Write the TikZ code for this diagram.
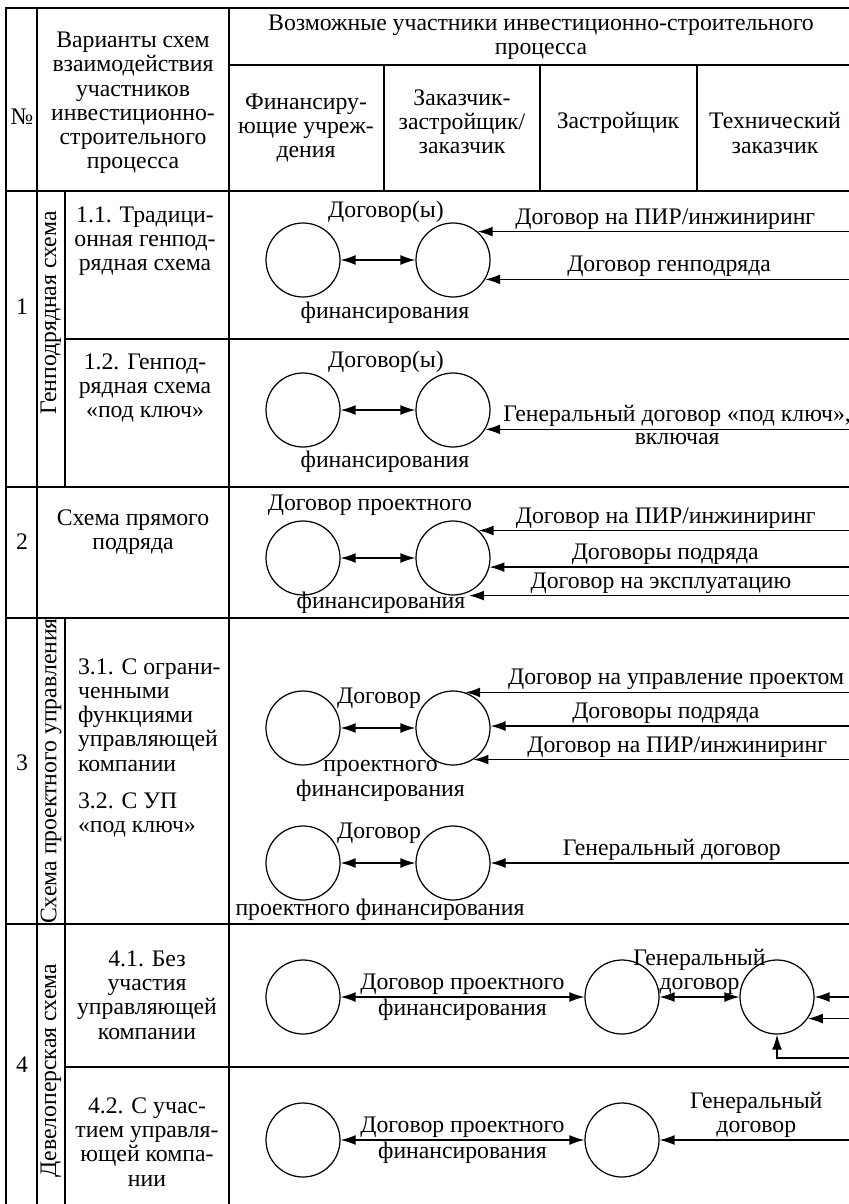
\documentclass[tikz,border=0pt]{standalone}
\usepackage{fontspec}
\setmainfont{Liberation Serif}
\usetikzlibrary{
    arrows.meta,
    positioning,
    calc
}

\begin{document}
\begin{tikzpicture}[
    txt/.style={font=\fontsize{13.5}{13.8}\selectfont, inner sep=1pt, align=center},
    party/.style={circle, draw, line width=0.7pt, minimum size=1.48cm, inner sep=0pt},
    arr/.style={-{Latex[length=8.5pt, width=5.6pt]}, line width=0.7pt},
    dblarr/.style={{Latex[length=8.5pt, width=5.6pt]}-{Latex[length=8.5pt, width=5.6pt]}, line width=0.7pt},
    grid/.style={line width=0.7pt}
]
    \useasboundingbox (0,0) rectangle (16.98,-24.08);
    \clip (0,0) rectangle (16.98,-24.08);
    \coordinate (edge) at (17.06,0);

    % Table rules
    \draw[grid] (0.12,-24.3) -- (0.12,-0.16) -- (17.1,-0.16);
    \draw[grid] (0.74,-0.16) -- (0.74,-24.3);
    \draw[grid] (4.58,-0.16) -- (4.58,-24.3);
    \draw[grid] (4.58,-1.30) -- (17.1,-1.30);
    \draw[grid] (7.68,-1.30) -- (7.68,-3.82);
    \draw[grid] (10.80,-1.30) -- (10.80,-3.82);
    \draw[grid] (13.94,-1.30) -- (13.94,-3.82);
    \draw[grid] (0.12,-3.82) -- (17.1,-3.82);
    \draw[grid] (0.12,-9.74) -- (17.1,-9.74);
    \draw[grid] (0.12,-12.36) -- (17.1,-12.36);
    \draw[grid] (0.12,-18.48) -- (17.1,-18.48);
    \draw[grid] (1.30,-6.78) -- (17.1,-6.78);
    \draw[grid] (1.30,-21.34) -- (17.1,-21.34);
    \draw[grid] (1.30,-3.82) -- (1.30,-9.74);
    \draw[grid] (1.30,-12.36) -- (1.30,-24.3);

    % Header
    \node[txt] (num) at (0.44,-2.34) {№};
    \node[txt] (variants) at (2.66,-2.06) {Варианты схем\\взаимодействия\\участников\\инвестиционно-\\строительного\\процесса};
    \node[txt] (parts) at (10.82,-0.75) {Возможные участники инвестиционно-строительного\\процесса};
    \node[txt] (hfin) at (6.12,-2.56) {Финансиру-\\ющие учреж-\\дения};
    \node[txt] (hzak) at (9.24,-2.44) {Заказчик-\\застройщик/\\заказчик};
    \node[txt] (hzas) at (12.36,-2.46) {Застройщик};
    \node[txt] (hteh) at (15.50,-2.66) {Технический\\заказчик};

    % Row 1
    \node[txt] (n1) at (0.44,-6.14) {1};
    \node[txt, rotate=90] (gen) at (1.02,-6.26) {Генподрядная схема};

    % 1.1
    \node[txt] (v11) at (2.90,-4.82) {1.1. Традици-\\онная генпод-\\рядная схема};
    \node[party] (fin11) at (6.06,-5.20) {};
    \node[party] (zak11) at (9.06,-5.20) {};
    \draw[dblarr] (fin11) -- (zak11);
    \node[txt] (d11) at (7.72,-4.24) {Договор(ы)};
    \node[txt] (f11) at (7.70,-6.26) {финансирования};
    \draw[arr] (zak11.49 -| edge) -- (zak11.49) node[txt, midway, above] {Договор на ПИР/инжиниринг};
    \draw[arr] (zak11.-31 -| edge) -- (zak11.-31) node[txt, midway, above] {Договор генподряда};

    % 1.2
    \node[txt] (v12) at (2.90,-7.76) {1.2. Генпод-\\рядная схема\\«под ключ»};
    \node[party] (fin12) at (6.06,-8.20) {};
    \node[party] (zak12) at (9.06,-8.20) {};
    \draw[dblarr] (fin12) -- (zak12);
    \node[txt] (d12) at (7.72,-7.24) {Договор(ы)};
    \node[txt] (f12) at (7.70,-9.24) {финансирования};
    \draw[arr] (zak12.-31 -| edge) -- (zak12.-31)
        node[txt, midway, above, xshift=0.16cm] {Генеральный договор «под ключ»,}
        node[txt, midway, below, xshift=0.16cm, yshift=-1pt] {включая};

    % Row 2
    \node[txt] (n2) at (0.44,-10.84) {2};
    \node[txt] (v2) at (2.66,-10.64) {Схема прямого\\подряда};
    \node[party] (fin2) at (6.06,-11.16) {};
    \node[party] (zak2) at (9.06,-11.16) {};
    \draw[dblarr] (fin2) -- (zak2);
    \node[txt] (d2) at (7.40,-10.10) {Договор проектного};
    \node[txt] (f2) at (7.62,-12.06) {финансирования};
    \draw[arr] (zak2.47 -| edge) -- (zak2.47) node[txt, midway, above] {Договор на ПИР/инжиниринг};
    \draw[arr] (zak2.-14 -| edge) -- (zak2.-14) node[txt, midway, above, xshift=-0.12cm] {Договоры подряда};
    \coordinate (zak2b) at ([xshift=0.32cm]zak2.south);
    \draw[arr] (zak2b -| edge) -- (zak2b) node[txt, midway, above] {Договор на эксплуатацию};

    % Row 3
    \node[txt] (n3) at (0.44,-15.26) {3};
    \node[txt, rotate=90] (pm) at (1.02,-15.42) {Схема проектного управления};
    \node[txt, anchor=west, align=left] (v31) at (1.52,-14.30) {3.1. С ограни-\\ченными\\функциями\\управляющей\\компании};
    \node[txt, anchor=west, align=left] (v32) at (1.52,-16.30) {3.2. С УП\\«под ключ»};

    % 3.1
    \node[party] (fin31) at (6.06,-14.56) {};
    \node[party] (zak31) at (9.06,-14.56) {};
    \draw[dblarr] (fin31) -- (zak31);
    \node[txt] (d31) at (7.58,-13.96) {Договор};
    \node[txt] (f31) at (7.61,-15.62) {проектного\\финансирования};
    \draw[arr] (zak31.71 -| edge) -- (zak31.71) node[txt, midway, above, xshift=0.34cm] {Договор на управление проектом};
    \draw[arr] (zak31.3 -| edge) -- (zak31.3) node[txt, midway, above, xshift=-0.12cm] {Договоры подряда};
    \draw[arr] (zak31.-57 -| edge) -- (zak31.-57) node[txt, midway, above, xshift=0.28cm] {Договор на ПИР/инжиниринг};

    % 3.2
    \node[party] (fin32) at (6.06,-17.26) {};
    \node[party] (zak32) at (9.06,-17.26) {};
    \draw[dblarr] (fin32) -- (zak32);
    \node[txt] (d32) at (7.58,-16.66) {Договор};
    \node[txt] (f32) at (7.60,-18.20) {проектного финансирования};
    \draw[arr] (zak32.east -| edge) -- (zak32.east) node[txt, midway, above] {Генеральный договор};

    % Row 4
    \node[txt] (n4) at (0.44,-21.30) {4};
    \node[txt, rotate=90] (dev) at (1.02,-21.42) {Девелоперская схема};
    \node[txt] (v41) at (2.94,-19.90) {4.1. Без\\участия\\управляющей\\компании};
    \node[txt] (v42) at (2.94,-22.84) {4.2. С учас-\\тием управля-\\ющей компа-\\нии};

    % 4.1
    \node[party] (fin41) at (6.06,-19.94) {};
    \node[party] (zas41) at (12.44,-19.94) {};
    \node[party] (teh41) at (15.54,-19.94) {};
    \draw[dblarr] (fin41) -- (zas41)
        node[txt, midway, above] {Договор проектного}
        node[txt, midway, below] {финансирования};
    \draw[dblarr] (zas41) -- (teh41) node[txt, midway, above] {Генеральный\\договор};
    \draw[arr] (teh41.east -| edge) -- (teh41.east);
    \draw[arr] (teh41.-35 -| edge) -- (teh41.-35);
    \coordinate (loop41) at (17.06,-21.16);
    \draw[arr] (loop41) -| (teh41.south);

    % 4.2
    \node[party] (fin42) at (6.06,-22.80) {};
    \node[party] (zas42) at (12.44,-22.80) {};
    \draw[dblarr] (fin42) -- (zas42)
        node[txt, midway, above] {Договор проектного}
        node[txt, midway, below] {финансирования};
    \draw[arr] (zas42.east -| edge) -- (zas42.east) node[txt, midway, above] {Генеральный\\договор};
\end{tikzpicture}
\end{document}
